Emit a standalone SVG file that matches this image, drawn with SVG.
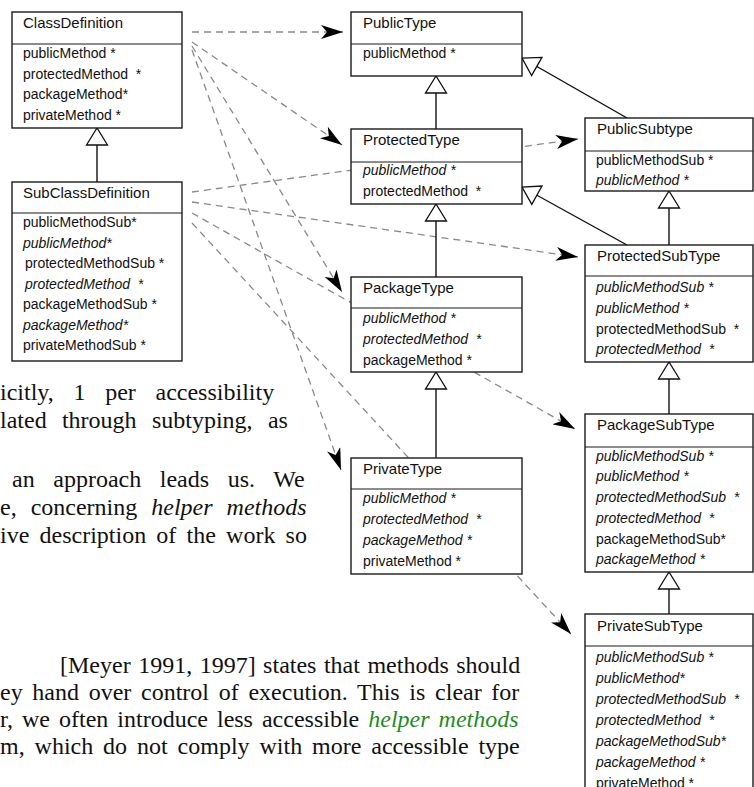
<svg xmlns="http://www.w3.org/2000/svg" width="754" height="787" viewBox="0 0 754 787">
<defs>
<style>
.box{fill:#fff;stroke:#1a1a1a;stroke-width:1.4}
.sep{stroke:#1a1a1a;stroke-width:1.2}
.t{font-family:"Liberation Sans",Arial,sans-serif;font-size:15px;fill:#111}
.m{font-family:"Liberation Sans",Arial,sans-serif;font-size:14px;fill:#111;white-space:pre}
.i{font-style:italic}
.body{font-family:"Liberation Serif","Times New Roman",serif;font-size:24px;fill:#111}
.green{fill:#1f8c1f;font-style:italic}
.dash{fill:none;stroke:#8a8a8a;stroke-width:1.3;stroke-dasharray:7 5;marker-end:url(#arr)}
.solid{fill:none;stroke:#111;stroke-width:1.4;marker-end:url(#tri)}
</style>
<marker id="arr" viewBox="0 0 22 14" refX="22" refY="7" markerWidth="22" markerHeight="14" markerUnits="userSpaceOnUse" orient="auto">
<path d="M0,0 L22,7 L0,14 L6,7 Z" fill="#000" stroke="none"/>
</marker>
<marker id="tri" viewBox="-1 -1 19 23" refX="17" refY="10.5" markerWidth="19" markerHeight="23" markerUnits="userSpaceOnUse" orient="auto" overflow="visible">
<path d="M0,0 L17,10.5 L0,21 Z" fill="#fff" stroke="#111" stroke-width="1.3"/>
</marker>
</defs>
<rect width="754" height="787" fill="#fff"/>

<g id="body-text">
<text class="body" x="0" y="400" word-spacing="13.7">icitly, 1 per accessibility</text>
<text class="body" x="0" y="428" word-spacing="9.3">lated through subtyping, as</text>
<text class="body" x="12" y="487" word-spacing="12.6">an approach leads us. We</text>
<text class="body" x="0" y="515" word-spacing="8">e, concerning <tspan class="i">helper methods</tspan></text>
<text class="body" x="0" y="543" word-spacing="4.2">ive description of the work so</text>
<text class="body" x="60" y="673" word-spacing="1.5">[Meyer 1991, 1997] states that methods should</text>
<text class="body" x="0" y="700" word-spacing="3.7">ey hand over control of execution. This is clear for</text>
<text class="body" x="0" y="727" word-spacing="3">r, we often introduce less accessible <tspan class="green">helper methods</tspan></text>
<text class="body" x="0" y="754" word-spacing="3.9">m, which do not comply with more accessible type</text>
</g>

<g id="connectors">
<path class="dash" d="M192,32 L343,32"/>
<path class="dash" d="M192,42 L342,145"/>
<path class="dash" d="M192,46 L342,292"/>
<path class="dash" d="M192,50 L341,470"/>
<path class="dash" d="M192,192 L578,139"/>
<path class="dash" d="M192,202 L578,257"/>
<path class="dash" d="M192,213 L575,429"/>
<path class="dash" d="M192,223 L571,634"/>
<path class="solid" d="M97,182 L97,128"/>
<path class="solid" d="M436,129 L436,76"/>
<path class="solid" d="M436,277 L436,204"/>
<path class="solid" d="M436,458 L436,372"/>
<path class="solid" d="M627,118 L522,58"/>
<path class="solid" d="M627,245 L522,187"/>
<path class="solid" d="M669,245 L669,191"/>
<path class="solid" d="M669,414 L669,362"/>
<path class="solid" d="M669,614 L669,572"/>
</g>

<g id="ClassDefinition">
<rect class="box" x="12" y="12" width="170" height="116"/>
<line class="sep" x1="12" y1="44" x2="182" y2="44"/>
<text class="t" x="23" y="28">ClassDefinition</text>
<text class="m" x="23" y="58">publicMethod *</text>
<text class="m" x="23" y="79">protectedMethod  *</text>
<text class="m" x="23" y="99">packageMethod*</text>
<text class="m" x="23" y="120">privateMethod *</text>
</g>

<g id="SubClassDefinition">
<rect class="box" x="12" y="182" width="170" height="179"/>
<line class="sep" x1="12" y1="213" x2="182" y2="213"/>
<text class="t" x="23" y="198">SubClassDefinition</text>
<text class="m" x="23" y="227">publicMethodSub*</text>
<text class="m i" x="23" y="248">publicMethod*</text>
<text class="m" x="25" y="268">protectedMethodSub *</text>
<text class="m i" x="25" y="289">protectedMethod  *</text>
<text class="m" x="23" y="309">packageMethodSub *</text>
<text class="m i" x="23" y="330">packageMethod*</text>
<text class="m" x="23" y="350">privateMethodSub *</text>
</g>

<g id="PublicType">
<rect class="box" x="351" y="12" width="171" height="64"/>
<line class="sep" x1="351" y1="44" x2="522" y2="44"/>
<text class="t" x="363" y="28">PublicType</text>
<text class="m" x="363" y="58">publicMethod *</text>
</g>

<g id="ProtectedType">
<rect class="box" x="351" y="129" width="171" height="75"/>
<line class="sep" x1="351" y1="162" x2="522" y2="162"/>
<text class="t" x="363" y="145">ProtectedType</text>
<text class="m i" x="363" y="175">publicMethod *</text>
<text class="m" x="363" y="196">protectedMethod  *</text>
</g>

<g id="PackageType">
<rect class="box" x="351" y="277" width="171" height="95"/>
<line class="sep" x1="351" y1="308" x2="522" y2="308"/>
<text class="t" x="363" y="293">PackageType</text>
<text class="m i" x="363" y="323">publicMethod *</text>
<text class="m i" x="363" y="344">protectedMethod  *</text>
<text class="m" x="363" y="365">packageMethod *</text>
</g>

<g id="PrivateType">
<rect class="box" x="351" y="458" width="171" height="116"/>
<line class="sep" x1="351" y1="489" x2="522" y2="489"/>
<text class="t" x="363" y="474">PrivateType</text>
<text class="m i" x="363" y="503">publicMethod *</text>
<text class="m i" x="363" y="524">protectedMethod  *</text>
<text class="m i" x="363" y="545">packageMethod *</text>
<text class="m" x="363" y="566">privateMethod *</text>
</g>

<g id="PublicSubtype">
<rect class="box" x="585" y="118" width="168" height="73"/>
<line class="sep" x1="585" y1="151" x2="753" y2="151"/>
<text class="t" x="597" y="134">PublicSubtype</text>
<text class="m" x="596" y="165">publicMethodSub *</text>
<text class="m i" x="596" y="185">publicMethod *</text>
</g>

<g id="ProtectedSubType">
<rect class="box" x="585" y="245" width="168" height="117"/>
<line class="sep" x1="585" y1="276" x2="753" y2="276"/>
<text class="t" x="597" y="261">ProtectedSubType</text>
<text class="m i" x="596" y="292">publicMethodSub *</text>
<text class="m i" x="596" y="313">publicMethod *</text>
<text class="m" x="596" y="334">protectedMethodSub  *</text>
<text class="m i" x="596" y="354">protectedMethod  *</text>
</g>

<g id="PackageSubType">
<rect class="box" x="585" y="414" width="168" height="158"/>
<line class="sep" x1="585" y1="447" x2="753" y2="447"/>
<text class="t" x="597" y="430">PackageSubType</text>
<text class="m i" x="596" y="461">publicMethodSub *</text>
<text class="m i" x="596" y="481">publicMethod *</text>
<text class="m i" x="596" y="502">protectedMethodSub  *</text>
<text class="m i" x="596" y="523">protectedMethod  *</text>
<text class="m" x="596" y="544">packageMethodSub*</text>
<text class="m i" x="596" y="564">packageMethod *</text>
</g>

<g id="PrivateSubType">
<rect class="box" x="585" y="614" width="168" height="190"/>
<line class="sep" x1="585" y1="646" x2="753" y2="646"/>
<text class="t" x="597" y="631">PrivateSubType</text>
<text class="m i" x="596" y="662">publicMethodSub *</text>
<text class="m i" x="596" y="683">publicMethod*</text>
<text class="m i" x="596" y="704">protectedMethodSub  *</text>
<text class="m i" x="596" y="725">protectedMethod  *</text>
<text class="m i" x="596" y="746">packageMethodSub*</text>
<text class="m i" x="596" y="767">packageMethod *</text>
<text class="m" x="596" y="788">privateMethod *</text>
</g>
</svg>
